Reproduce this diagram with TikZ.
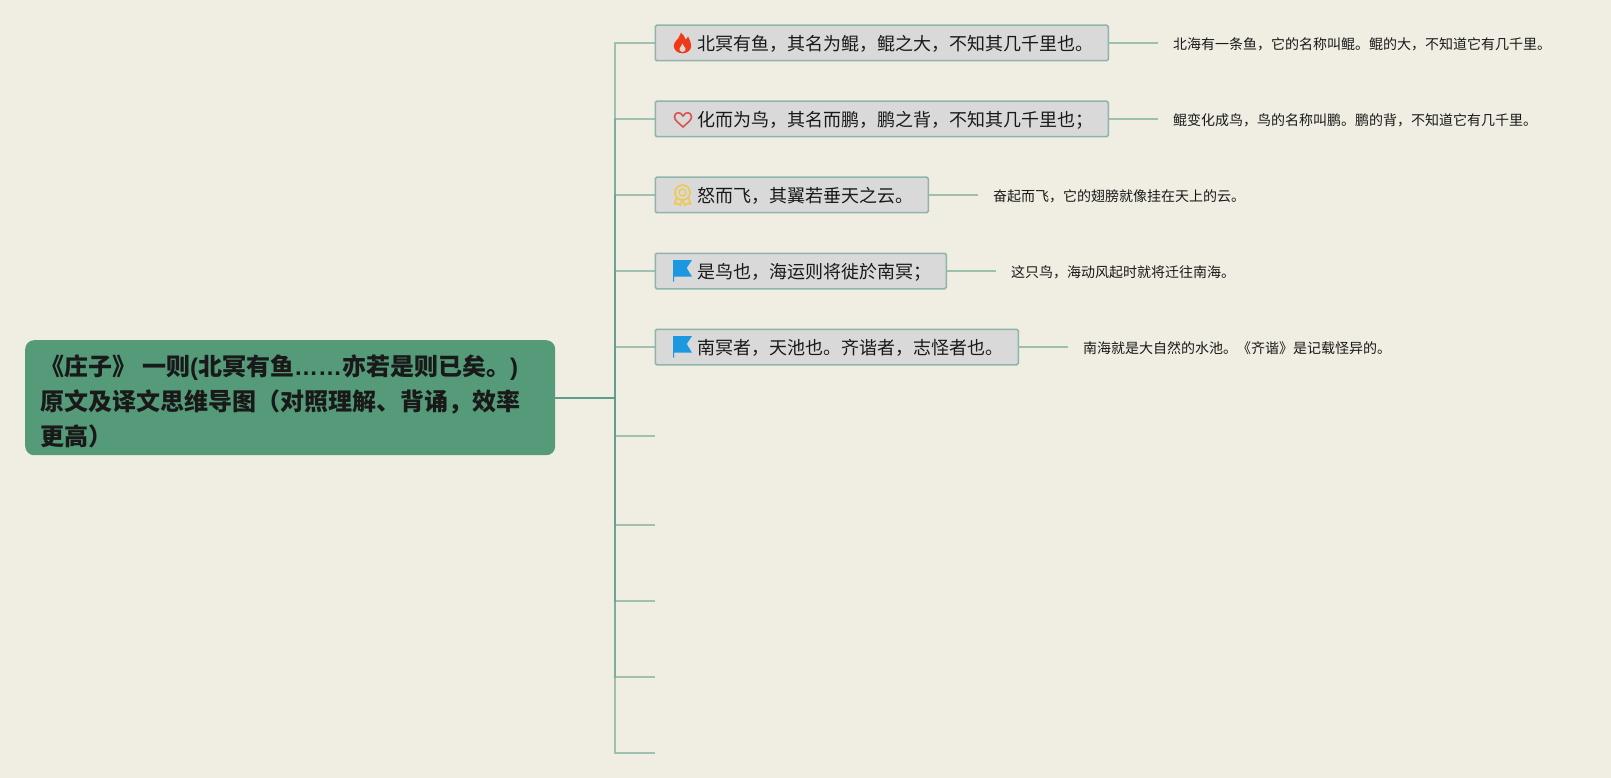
\documentclass[tikz,border=0pt]{standalone}
\usepackage{fontspec}
\setmainfont{Noto Sans CJK SC}
\newfontfamily\latinfont{Liberation Sans}
\definecolor{bg}{RGB}{240, 237, 226}
\definecolor{rootfill}{RGB}{85, 154, 121}
\definecolor{boxfill}{RGB}{216, 217, 216}
\definecolor{boxline}{RGB}{143, 181, 171}
\definecolor{trunk}{RGB}{96, 158, 140}
\definecolor{twig}{RGB}{156, 191, 174}
\definecolor{firered}{RGB}{240, 58, 23}
\definecolor{heartred}{RGB}{217, 83, 79}
\definecolor{gold}{RGB}{240, 200, 80}
\definecolor{flagblue}{RGB}{27, 152, 224}
\tikzset{
  rootbox/.style={fill=rootfill, rounded corners=9pt, anchor=north west, inner xsep=0pt, inner ysep=0pt,
    minimum width=530pt, minimum height=115pt},
  topic/.style={draw=boxline, fill=boxfill, line width=1.5pt, rounded corners=1.5pt, anchor=west, inner xsep=15pt, inner ysep=0pt,
    minimum height=35.5pt, font=\fontsize{18pt}{22pt}\selectfont, text=black!90, text height=18pt, text depth=3pt},
  note/.style={anchor=west, inner xsep=15pt, inner ysep=0pt, font=\fontsize{14pt}{18pt}\selectfont, text=black!90, text height=15pt, text depth=2pt},
  branch/.style={draw=trunk, line width=1.6pt, opacity=0.55},
  leaf/.style={draw=twig, line width=1.6pt},
  pics/fire/.style={code={
    \fill[firered] (0,-10.3) .. controls (-5,-10.3) and (-8.7,-7) .. (-8.7,-3) .. controls (-8.7,1) and (-5.5,2.5) .. (-4,5) .. controls (-3,7) and (-2.5,8.5) .. (-1.5,10.3)
      .. controls (1,8) and (2.5,6) .. (3,3.5) .. controls (4,4) and (5,5) .. (5.5,6.5) .. controls (7.5,3.5) and (8.7,0) .. (8.7,-3)
      .. controls (8.7,-7) and (5,-10.3) .. (0,-10.3) -- cycle;
    \fill[boxfill] (0,-9) .. controls (-2.5,-9) and (-3.5,-7) .. (-3,-5.5) .. controls (-2.5,-4) and (-0.5,-3) .. (0,-0.5)
      .. controls (0.5,-3) and (2.5,-4) .. (3,-5.5) .. controls (3.5,-7) and (2.5,-9) .. (0,-9) -- cycle;
  }},
  pics/heart/.style={code={
    \draw[draw=heartred, line width=1.6pt] (0,-7.5) .. controls (-4,-3.5) and (-8.5,-1) .. (-8.5,2.5) .. controls (-8.5,7.5) and (-2.5,8.5) .. (0,3.5)
      .. controls (2.5,8.5) and (8.5,7.5) .. (8.5,2.5) .. controls (8.5,-1) and (4,-3.5) .. (0,-7.5) -- cycle;
  }},
  pics/medal/.style={code={
    \draw[draw=gold, line width=1.6pt] (0,2.5) circle (7.5pt);
    \draw[draw=gold, line width=1.4pt] (0,2.5) circle (3.5pt);
    \draw[draw=gold, line width=1.6pt, line join=round] (-6,-3) -- (-8,-9) -- (-4.5,-8.5) -- (-2,-10.5) -- (-0.5,-5);
    \draw[draw=gold, line width=1.6pt, line join=round] (6,-3) -- (8,-9) -- (4.5,-8.5) -- (2,-10.5) -- (0.5,-5);
  }},
  pics/banner/.style={code={
    \fill[flagblue] (-10,11) -- (9,11) -- (3.7,3) -- (9,-5.7) -- (-9,-5.7) -- (-9,-10.7) -- (-10,-10.7) -- cycle;
  }},
}
\begin{document}
\begin{tikzpicture}[x=1pt, y=1pt]
\path[fill=bg] (0pt, 0pt) rectangle (1611pt, -778pt);
\useasboundingbox (0pt, 0pt) rectangle (1611pt, -778pt);
\node (0) [rootbox] at (25pt, -340pt) {};
\node (title) [anchor=north west, inner sep=0pt, align=left, font=\bfseries\fontsize{24pt}{35pt}\selectfont, text=black!90] at (40.5pt, -354.5pt)
  {《庄子》 一则{\latinfont (}北冥有鱼{\latinfont ……}亦若是则已矣。{\latinfont )}\\原文及译文思维导图（对照理解、背诵，效率\\更高）};
\node (1) [topic] at (654.5pt, -43pt) {\hspace*{27pt}北冥有鱼，其名为鲲，鲲之大，不知其几千里也。};
\node (2) [topic] at (654.5pt, -119pt) {\hspace*{27pt}化而为鸟，其名而鹏，鹏之背，不知其几千里也；};
\node (3) [topic] at (654.5pt, -195pt) {\hspace*{27pt}怒而飞，其翼若垂天之云。};
\node (4) [topic] at (654.5pt, -271pt) {\hspace*{27pt}是鸟也，海运则将徙於南冥；};
\node (5) [topic] at (654.5pt, -347pt) {\hspace*{27pt}南冥者，天池也。齐谐者，志怪者也。};
\node (n1) [note] at (1158pt, -43pt) {北海有一条鱼，它的名称叫鲲。鲲的大，不知道它有几千里。};
\node (n2) [note] at (1158pt, -119pt) {鲲变化成鸟，鸟的名称叫鹏。鹏的背，不知道它有几千里。};
\node (n3) [note] at (978pt, -195pt) {奋起而飞，它的翅膀就像挂在天上的云。};
\node (n4) [note] at (996pt, -271pt) {这只鸟，海动风起时就将迁往南海。};
\node (n5) [note] at (1068pt, -347pt) {南海就是大自然的水池。《齐谐》是记载怪异的。};
\coordinate (a) at (615pt, -397.7pt);
\coordinate (6) at (654.5pt, -435.7pt);
\coordinate (7) at (654.5pt, -525pt);
\coordinate (8) at (654.5pt, -601pt);
\coordinate (9) at (654.5pt, -677pt);
\coordinate (10) at (654.5pt, -752.7pt);
\foreach \i in {1,...,10}
  \draw [branch] (0.east |- a) -- (a) |- (\i.west);
\foreach \i in {1,...,5}
  \draw [leaf] (\i.east) -- (n\i.west);
\pic at (682.5pt, -43pt) {fire};
\pic at (683pt, -119.5pt) {heart};
\pic at (682.5pt, -195pt) {medal};
\pic at (683pt, -271pt) {banner};
\pic at (683pt, -347pt) {banner};
\end{tikzpicture}
\end{document}
